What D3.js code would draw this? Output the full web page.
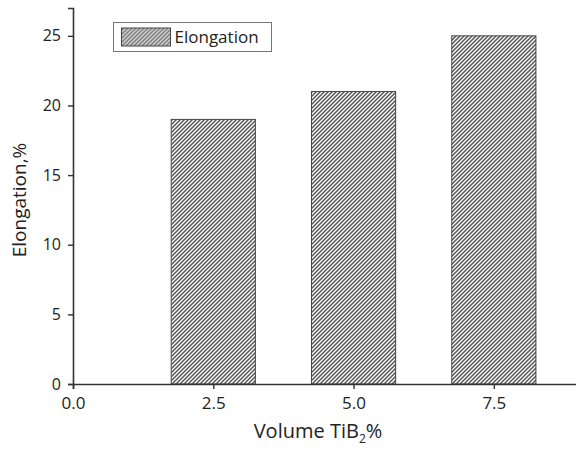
<!DOCTYPE html>
<html>
<head>
<meta charset="utf-8">
<script src="https://cdn.jsdelivr.net/npm/d3@7"></script>
<style>
  html, body { margin: 0; padding: 0; background: #fff; }
  text { font-family: "Open Sans", "Noto Sans", sans-serif; fill: #222; }
</style>
</head>
<body>
<svg id="chart" width="576" height="449"></svg>
<script>
// Elongation versus TiB2 volume fraction
const volumes = [2.5, 5.0, 7.5];
const elongation = [19, 21, 25];
const xTickValues = [0.0, 2.5, 5.0, 7.5];
const yTickValues = [0, 5, 10, 15, 20, 25];
const seriesName = "Elongation";

const svg = d3.select("#chart");
const margin = { left: 73, top: 8, bottom: 65 };
const H = 449;

const x = d3.scaleLinear().domain([0, 9]).range([margin.left, 578]);
const y = d3.scaleLinear().domain([0, 27]).range([H - margin.bottom, margin.top]);
const barW = x(1.5) - x(0);

// hatch fill
const defs = svg.append("defs");
const pat = defs.append("pattern")
  .attr("id", "hatch")
  .attr("patternUnits", "userSpaceOnUse")
  .attr("width", 4).attr("height", 4);
pat.append("rect").attr("width", 4).attr("height", 4).attr("fill", "#fff");
pat.append("path")
  .attr("d", "M-1,1 l2,-2 M0,4 l4,-4 M3,5 l2,-2")
  .attr("stroke", "#555").attr("stroke-width", 1.5);

// bars
svg.append("g").selectAll("rect")
  .data(volumes)
  .join("rect")
  .attr("x", d => x(d) - barW / 2)
  .attr("width", barW)
  .attr("y", (d, i) => y(elongation[i]))
  .attr("height", (d, i) => y(0) - y(elongation[i]))
  .attr("fill", "url(#hatch)")
  .attr("stroke", "#444")
  .attr("stroke-width", 1);

// axes
const xAxis = svg.append("g")
  .attr("transform", `translate(0,${y(0)})`)
  .call(d3.axisBottom(x).tickValues(xTickValues).tickFormat(d3.format(".1f")).tickSize(5).tickPadding(8));
const yAxis = svg.append("g")
  .attr("transform", `translate(${x(0)},0)`)
  .call(d3.axisLeft(y).tickValues(yTickValues).tickSize(5).tickPadding(7));

[xAxis, yAxis].forEach(g => {
  g.select(".domain").attr("stroke", "#333").attr("stroke-width", 1.6);
  g.selectAll(".tick line").attr("stroke", "#333").attr("stroke-width", 1.4);
  g.selectAll(".tick text").attr("fill", "#222")
    .attr("font-family", '"Open Sans", "Noto Sans", sans-serif');
});
xAxis.selectAll(".tick text").attr("font-size", 17);
yAxis.selectAll(".tick text").attr("font-size", 16);

// axis titles
const xt = svg.append("text")
  .attr("x", 318).attr("y", 438)
  .attr("text-anchor", "middle")
  .attr("font-size", 20);
xt.append("tspan").text("Volume TiB");
xt.append("tspan").attr("font-size", 12).attr("dy", 5).text("2");
xt.append("tspan").attr("dy", -5).text("%");

svg.append("text")
  .attr("transform", `translate(26,200) rotate(-90)`)
  .attr("text-anchor", "middle")
  .attr("font-size", 19)
  .text("Elongation,%");

// legend
const lg = svg.append("g").attr("transform", "translate(113.5,22.5)");
lg.append("rect").attr("width", 158).attr("height", 29)
  .attr("fill", "#fff").attr("stroke", "#777").attr("stroke-width", 1);
lg.append("rect").attr("x", 8).attr("y", 5.5).attr("width", 49).attr("height", 18)
  .attr("fill", "url(#hatch)").attr("stroke", "#444").attr("stroke-width", 1);
lg.append("text").attr("x", 61).attr("y", 20).attr("font-size", 17).text(seriesName);
</script>
</body>
</html>
